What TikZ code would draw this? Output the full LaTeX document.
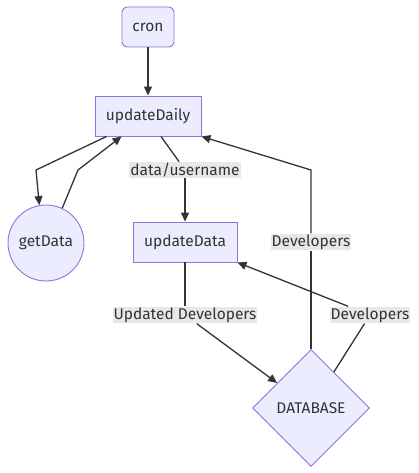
\documentclass[tikz,border=0pt]{standalone}
\usepackage{fontspec}
\setmainfont{Fira Sans}
\usepackage{xcolor}
\definecolor{mmfill}{HTML}{ECECFF}
\definecolor{mmborder}{HTML}{9370DB}
\definecolor{mmline}{HTML}{333333}
\definecolor{mmlabel}{HTML}{E8E8E8}
\usetikzlibrary{arrows.meta,shapes.geometric,calc}
\tikzset{
  box/.style={draw=mmborder, fill=mmfill, line width=0.9pt, text=mmline, font=\fontsize{15.5}{18}\selectfont, minimum height=40pt, inner sep=0pt},
  lbl/.style={fill=mmlabel, text=mmline, font=\fontsize{15.5}{18}\selectfont, inner sep=1pt},
  edge/.style={draw=mmline, line width=1.3pt},
  arr/.style={edge, -{Triangle[length=9pt,width=8pt]}}
}

\begin{document}
\begin{tikzpicture}[x=1pt, y=-1pt]
  \useasboundingbox (0,0) rectangle (418,473);

  %% Process nodes
  \node[box, rounded corners=5pt, minimum width=52pt] (cron) at (148,27) {cron};
  \node[box, minimum width=106pt] (ud) at (148,116) {updateDaily};
  \node[box, circle, minimum size=76pt] (gd) at (46,243) {getData};
  \node[box, minimum width=104pt] (udata) at (185,242) {updateData};
  \node[box, diamond, aspect=1, minimum width=117pt, minimum height=117pt] (db) at (311,408) {DATABASE};

  %% Edge labels
  \node[lbl] (lname) at (185,170) {data/username};
  \node[lbl] (ldev) at (311,242) {Developers};
  \node[lbl] (lupd) at (185,315) {Updated Developers};
  \node[lbl] (ldev2) at (370,315) {Developers};

  %% Bends
  \coordinate (b1) at (36,170);
  \coordinate (b2) at (78,170);
  \coordinate (b3) at (311,170);

  \draw[arr] (cron.south) -- (ud.north);
  \draw[arr] ($(ud.south west)+(12,0)$) -- (b1) -- (gd.100);
  \draw[arr] (gd.65) -- (b2) -- ($(ud.south west)+(27,0)$);
  \draw[edge] ($(ud.south)+(13,0)$) -- (lname);
  \draw[arr] (lname) -- (udata.north);
  \draw[edge] (db.north) -- (ldev);
  \draw[arr] (ldev) -- (b3) -- (ud.south east);
  \draw[edge] (udata.south) -- (lupd);
  \draw[arr] (lupd) -- (db);
  \draw[edge] (db) -- (ldev2);
  \draw[arr] (ldev2) -- (udata.south east);
\end{tikzpicture}
\end{document}
